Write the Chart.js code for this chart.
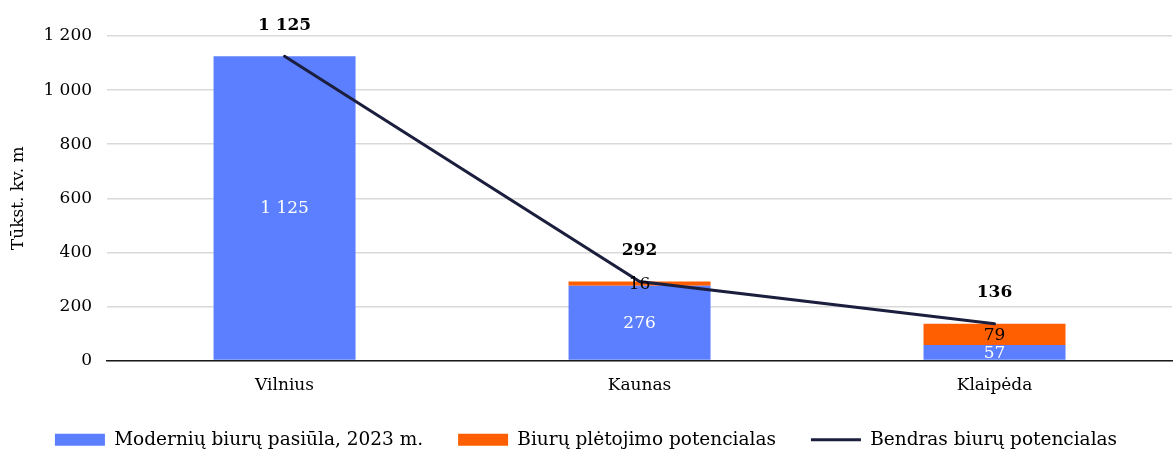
<!DOCTYPE html>
<html>
<head>
<meta charset="utf-8">
<script src="https://cdn.jsdelivr.net/npm/chart.js@4/dist/chart.umd.min.js"></script>
<style>
  html, body { margin: 0; padding: 0; background: #fff; }
  #wrap { width: 1176px; height: 449px; }
</style>
</head>
<body>
<div id="wrap"><canvas id="officeChart"></canvas></div>
<script>
const cities = ['Vilnius', 'Kaunas', 'Klaipėda'];
const modernSupply = [1125, 276, 57];
const devPotential = [0, 16, 79];
const totalPotential = [1125, 292, 136];

const FONT = "'DejaVu Serif', serif";

// space as thousands separator: 1125 -> "1 125"
function fmt(v) {
    return String(v).replace(/\B(?=(\d{3})+(?!\d))/g, ' ');
}

// value labels: inside the stacked segments and bold totals above the line
const valueLabels = {
    id: 'valueLabels',
    afterDatasetsDraw(chart) {
        const ctx = chart.ctx;
        ctx.save();
        ctx.textAlign = 'center';
        ctx.textBaseline = 'middle';
        [0, 1].forEach(di => {
            const meta = chart.getDatasetMeta(di);
            const ds = chart.data.datasets[di];
            meta.data.forEach((bar, i) => {
                const v = ds.data[i];
                if (!v) return;
                ctx.font = '17px ' + FONT;
                ctx.fillStyle = di === 0 ? '#ffffff' : '#000000';
                ctx.fillText(fmt(v), bar.x, (bar.y + bar.base) / 2 + 1);
            });
        });
        const lineMeta = chart.getDatasetMeta(2);
        lineMeta.data.forEach((pt, i) => {
            ctx.font = 'bold 17px ' + FONT;
            ctx.fillStyle = '#000000';
            ctx.fillText(fmt(totalPotential[i]), pt.x, pt.y - 31);
        });
        ctx.restore();
    }
};

const ctx = document.getElementById('officeChart').getContext('2d');
const chart = new Chart(ctx, {
    data: {
        labels: cities,
        datasets: [
            {
                type: 'bar',
                label: 'Modernių biurų pasiūla, 2023 m.',
                data: modernSupply,
                backgroundColor: '#5b7fff',
                borderWidth: 0,
                barPercentage: 0.8,
                categoryPercentage: 0.5,
                stack: 's',
                pointStyle: 'rect',
                order: 1
            },
            {
                type: 'bar',
                label: 'Biurų plėtojimo potencialas',
                data: devPotential,
                backgroundColor: '#ff5f00',
                borderWidth: 0,
                barPercentage: 0.8,
                categoryPercentage: 0.5,
                stack: 's',
                pointStyle: 'rect',
                order: 2
            },
            {
                type: 'line',
                label: 'Bendras biurų potencialas',
                data: totalPotential,
                borderColor: '#1b1e3c',
                backgroundColor: '#1b1e3c',
                borderWidth: 3,
                borderCapStyle: 'round',
                pointRadius: 0,
                tension: 0,
                fill: false,
                stack: 'total',
                pointStyle: 'line',
                order: 0
            }
        ]
    },
    options: {
        responsive: true,
        maintainAspectRatio: false,
        animation: false,
        layout: { padding: { left: 0, right: 4, top: 36, bottom: -10 } },
        scales: {
            x: {
                stacked: true,
                grid: { display: false, drawTicks: false },
                border: { display: true, color: '#1a1a1a', width: 1.5 },
                ticks: { color: '#000', font: { family: FONT, size: 17 }, padding: 15 },
                afterFit: scale => { scale.height = 35; }
            },
            y: {
                stacked: true,
                min: 0,
                max: 1200,
                ticks: {
                    stepSize: 200,
                    color: '#000',
                    font: { family: FONT, size: 17 },
                    padding: 15,
                    callback: v => fmt(v)
                },
                grid: { color: '#d9d9d9', lineWidth: 1.5, drawTicks: false },
                border: { display: false },
                title: {
                    display: true,
                    text: 'Tūkst. kv. m',
                    color: '#000',
                    font: { family: FONT, size: 17 },
                    padding: { top: 8, bottom: 0 }
                }
            }
        },
        plugins: {
            legend: {
                position: 'bottom',
                labels: {
                    usePointStyle: true,
                    pointStyleWidth: 50,
                    boxHeight: 12,
                    padding: 35,
                    color: '#000',
                    font: { family: FONT, size: 18.5 },
                    sort: (a, b) => a.datasetIndex - b.datasetIndex
                }
            },
            tooltip: { enabled: false }
        }
    },
    plugins: [valueLabels]
});
</script>
</body>
</html>
